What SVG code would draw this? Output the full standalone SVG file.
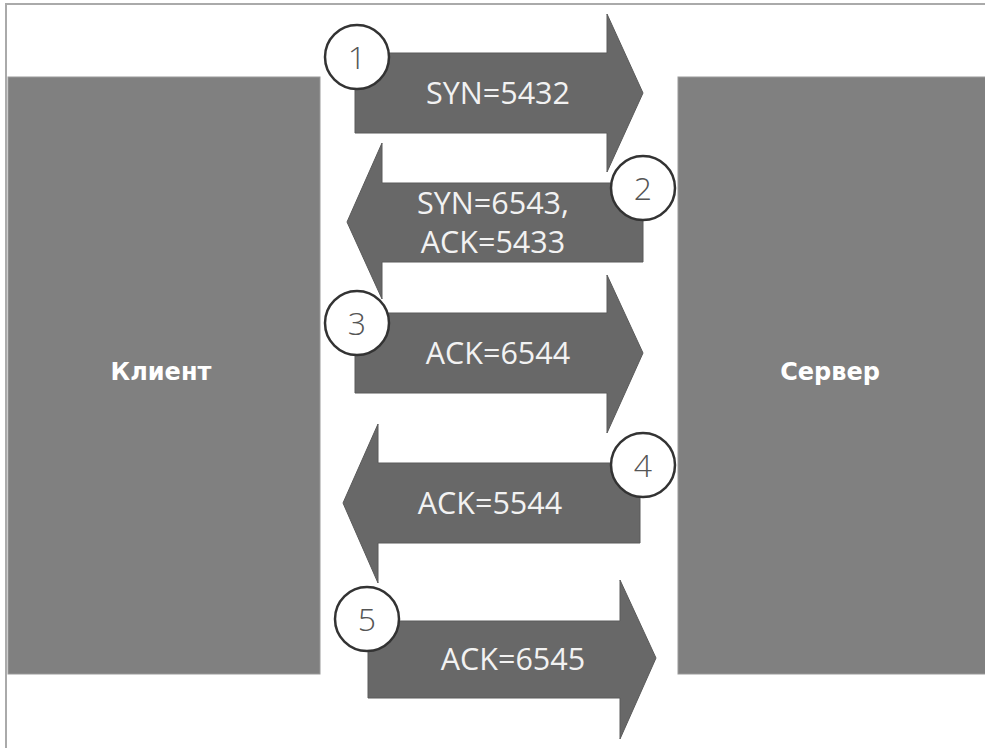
<svg xmlns="http://www.w3.org/2000/svg" width="985" height="748" viewBox="0 0 985 748">
<style>
.frame{fill:none;stroke:#aaaaaa;stroke-width:2}
.host{fill:#808080;stroke:#999999;stroke-width:1}
.hostlbl{font-family:"DejaVu Sans",sans-serif;font-weight:bold;font-size:24px;fill:#ffffff;text-anchor:middle}
.arrow{fill:#686868;stroke:#5a5a5a;stroke-width:1}
.lbl{font-family:"Open Sans",sans-serif;font-size:30.5px;fill:#f2f2f2;text-anchor:middle}
.num{fill:#ffffff;stroke:#333333;stroke-width:2.5}
.numt{font-family:"Open Sans",sans-serif;font-weight:300;font-size:32px;fill:#555555;text-anchor:middle}
</style>
<rect width="985" height="748" fill="#ffffff"/>
<path class="frame" d="M6,748 V4 H985"/>
<g id="client">
<rect class="host" x="8" y="77" width="312" height="597"/>
<text class="hostlbl" x="161" y="380">Клиент</text>
</g>
<g id="server">
<rect class="host" x="678" y="77" width="308" height="597"/>
<text class="hostlbl" x="830" y="380">Сервер</text>
</g>
<g id="connectors">
<g id="msg1">
<polygon class="arrow" points="355,53 607,53 607,14 643,93 607,172 607,133 355,133"/>
<text class="lbl" x="498" y="104">SYN=5432</text>
</g>
<g id="msg2">
<polygon class="arrow" points="643,183 382,183 382,143 347,222 382,299 382,262 643,262"/>
<text class="lbl" x="493" y="214">SYN=6543,</text>
<text class="lbl" x="493" y="253">ACK=5433</text>
</g>
<g id="msg3">
<polygon class="arrow" points="355,313 607,313 607,275 643,353 607,433 607,393 355,393"/>
<text class="lbl" x="498" y="364">ACK=6544</text>
</g>
<g id="msg4">
<polygon class="arrow" points="640,463 378,463 378,424 343,503 378,583 378,543 640,543"/>
<text class="lbl" x="490" y="514">ACK=5544</text>
</g>
<g id="msg5">
<polygon class="arrow" points="368,621 620,621 620,580 656,658 620,739 620,698 368,698"/>
<text class="lbl" x="513" y="670">ACK=6545</text>
</g>
</g>
<g id="step1"><circle class="num" cx="357" cy="57" r="32"/><text class="numt" x="357" y="69">1</text></g>
<g id="step2"><circle class="num" cx="643" cy="188" r="32"/><text class="numt" x="643" y="200">2</text></g>
<g id="step3"><circle class="num" cx="357" cy="323" r="32"/><text class="numt" x="357" y="335">3</text></g>
<g id="step4"><circle class="num" cx="643" cy="465" r="32"/><text class="numt" x="643" y="477">4</text></g>
<g id="step5"><circle class="num" cx="367" cy="619" r="32"/><text class="numt" x="367" y="631">5</text></g>
</svg>
